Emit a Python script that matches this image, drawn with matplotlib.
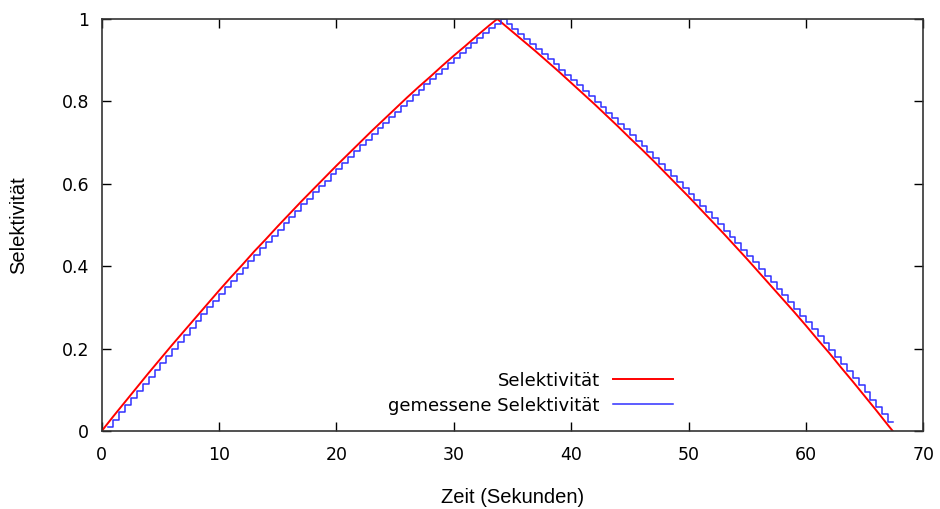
import numpy as np
import matplotlib
matplotlib.use("Agg")
import matplotlib.pyplot as plt

zeit_soll = [0, 1, 2, 3, 4, 5, 6, 7, 8, 9, 10, 11, 12, 13, 14, 15, 16, 17,
             18, 19, 20, 21, 22, 23, 24, 25, 26, 27, 28, 29, 30, 31, 32, 33,
             33.7, 34, 35, 36, 37, 38, 39, 40, 41, 42, 43, 44, 45, 46, 47,
             48, 49, 50, 51, 52, 53, 54, 55, 56, 57, 58, 59, 60, 61, 62, 63,
             64, 65, 66, 67, 67.4]
sel_soll = [0.000, 0.036, 0.071, 0.106, 0.141, 0.175, 0.209, 0.242, 0.275,
            0.308, 0.341, 0.373, 0.404, 0.436, 0.466, 0.497, 0.527, 0.557,
            0.586, 0.615, 0.644, 0.672, 0.700, 0.728, 0.755, 0.782, 0.809,
            0.835, 0.860, 0.886, 0.911, 0.935, 0.960, 0.984,
            1.000, 0.993, 0.969, 0.945, 0.921, 0.896, 0.871, 0.845, 0.819,
            0.793, 0.766, 0.739, 0.711, 0.684, 0.656, 0.627, 0.598, 0.569,
            0.539, 0.509, 0.479, 0.448, 0.417, 0.385, 0.353, 0.321, 0.289,
            0.256, 0.222, 0.189, 0.154, 0.120, 0.085, 0.050, 0.014, 0.000]

# gemessene Selektivitaet (blaue Treppe), Messung alle 0.5 s
sel_mess = [0.009, 0.027, 0.045, 0.062, 0.080, 0.097, 0.115, 0.132, 0.149,
            0.166, 0.183, 0.200, 0.217, 0.234, 0.251, 0.267, 0.284, 0.300,
            0.316, 0.332, 0.349, 0.365, 0.381, 0.396, 0.412, 0.428, 0.443,
            0.459, 0.474, 0.489, 0.505, 0.520, 0.535, 0.550, 0.564, 0.579,
            0.594, 0.608, 0.623, 0.637, 0.651, 0.665, 0.679, 0.693, 0.707,
            0.721, 0.735, 0.748, 0.762, 0.775, 0.789, 0.802, 0.815, 0.828,
            0.841, 0.854, 0.867, 0.879, 0.892, 0.905, 0.917, 0.929, 0.941,
            0.954, 0.966, 0.978, 0.989,
            0.999, 0.987, 0.975, 0.963, 0.951, 0.939, 0.927, 0.914, 0.902,
            0.890, 0.877, 0.864, 0.851, 0.839, 0.826, 0.812, 0.799, 0.786,
            0.773, 0.759, 0.746, 0.732, 0.718, 0.705, 0.691, 0.677, 0.663,
            0.648, 0.634, 0.620, 0.605, 0.591, 0.576, 0.561, 0.547, 0.532,
            0.517, 0.502, 0.486, 0.471, 0.456, 0.440, 0.425, 0.409, 0.393,
            0.377, 0.361, 0.345, 0.329, 0.313, 0.297, 0.280, 0.264, 0.247,
            0.231, 0.214, 0.197, 0.180, 0.163, 0.146, 0.129, 0.111, 0.094,
            0.076, 0.059, 0.041, 0.023]
mess_start = 0.5
mess_schritt = 0.5
mess_ende = 67.4

x_ticks = [0, 10, 20, 30, 40, 50, 60, 70]
y_ticks = [0, 0.2, 0.4, 0.6, 0.8, 1]
y_ticklabels = ["0", "0.2", "0.4", "0.6", "0.8", "1"]

# Zeitpunkte der Messwerte (Treppe haelt den Wert bis zur naechsten Messung)
zeit_mess = mess_start + mess_schritt * np.arange(len(sel_mess))
zeit_mess = np.append(zeit_mess, mess_ende)
sel_mess_plot = np.append(sel_mess, sel_mess[-1])

fig = plt.figure(figsize=(9.4, 5.09), dpi=100)
ax = fig.add_axes([0.1082, 0.1532, 0.8740, 0.8095])

ax.plot(zeit_soll, sel_soll, color="#ff0000", lw=1.4, label="Selektivität")
ax.step(zeit_mess, sel_mess_plot, where="post", color="#3030ff", lw=1.1,
        label="gemessene Selektivität")

ax.set_xlim(0, 70)
ax.set_ylim(0, 1)
ax.set_xticks(x_ticks)
ax.set_yticks(y_ticks)
ax.set_yticklabels(y_ticklabels)

ax.tick_params(direction="in", length=6.5, width=1.0, top=True, right=True,
               labelsize=12.5, colors="black")
ax.tick_params(axis="x", pad=11)
ax.tick_params(axis="y", pad=9)
for sp in ax.spines.values():
    sp.set_linewidth(1.2)
    sp.set_color("#333333")

ax.set_xlabel("Zeit (Sekunden)", fontsize=14.5, family="Liberation Sans",
              labelpad=17)
ax.set_ylabel("Selektivität", fontsize=14.5, family="Liberation Sans",
              labelpad=24)

ax.legend(loc="center", bbox_to_anchor=(0.522, 0.092), frameon=False,
          markerfirst=False, fontsize=13, handlelength=3.3,
          handletextpad=0.75, labelspacing=0.4, borderpad=0)

fig.savefig("out.png", dpi=100)
